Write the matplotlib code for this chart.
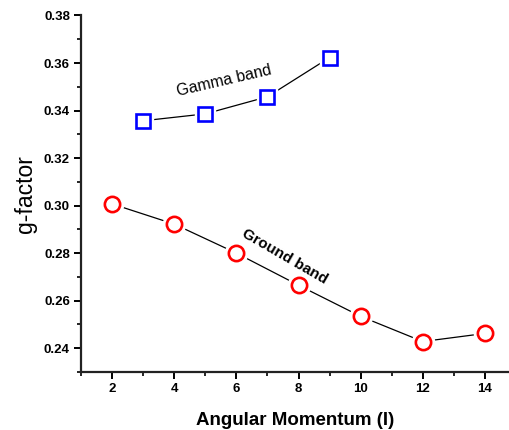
import matplotlib.pyplot as plt
from matplotlib.ticker import MultipleLocator

plt.rcParams['font.family'] = ['Liberation Sans', 'DejaVu Sans']

# data
spin_gamma = [3, 5, 7, 9]
g_gamma = [0.3357, 0.3386, 0.3458, 0.3623]
spin_ground = [2, 4, 6, 8, 10, 12, 14]
g_ground = [0.3007, 0.2922, 0.2800, 0.2665, 0.2534, 0.2428, 0.2462]

fig = plt.figure(figsize=(5.1, 4.3), dpi=100)
ax = fig.add_axes([0.159, 0.135, 0.838, 0.829])


def serie(x, y, marker, color, ms):
    # linea con hueco alrededor de cada marcador (estilo Origin)
    ax.plot(x, y, color='black', lw=0.9, zorder=1)
    ax.plot(x, y, ls='none', marker=marker, ms=ms + 5, mfc='white',
            mec='white', zorder=2)
    ax.plot(x, y, ls='none', marker=marker, ms=ms, mfc='white',
            mec=color, mew=1.9, zorder=3)


serie(spin_gamma, g_gamma, 's', '#0000ff', 10.0)
serie(spin_ground, g_ground, 'o', '#ff0000', 11.0)

ax.text(5.6, 0.3524, 'Gamma band', fontsize=11.5, rotation=13,
        ha='center', va='center')
ax.text(7.56, 0.2786, 'Ground band', fontsize=11, fontweight='bold',
        rotation=-30, ha='center', va='center')

ax.set_xlim(1, 14.76)
ax.set_ylim(0.23, 0.38)
ax.xaxis.set_major_locator(MultipleLocator(2))
ax.xaxis.set_minor_locator(MultipleLocator(1))
ax.yaxis.set_major_locator(MultipleLocator(0.02))
ax.yaxis.set_minor_locator(MultipleLocator(0.01))
ax.yaxis.set_major_formatter(plt.FormatStrFormatter('%.2f'))

for s in ['top', 'right']:
    ax.spines[s].set_visible(False)
for s in ['left', 'bottom']:
    ax.spines[s].set_linewidth(1.6)
    ax.spines[s].set_color('#222222')

ax.tick_params(which='major', length=5, width=1.4, direction='out',
               labelsize=9.5, pad=3)
ax.tick_params(which='minor', length=3, width=1.2, direction='out')
for lab in ax.get_xticklabels() + ax.get_yticklabels():
    lab.set_fontweight('bold')

ax.set_xlabel('Angular Momentum (I)', fontsize=13.5, fontweight='bold',
              labelpad=12)
ax.set_ylabel('g-factor', fontsize=16.5, labelpad=5)

fig.savefig('out.png', dpi=100)
